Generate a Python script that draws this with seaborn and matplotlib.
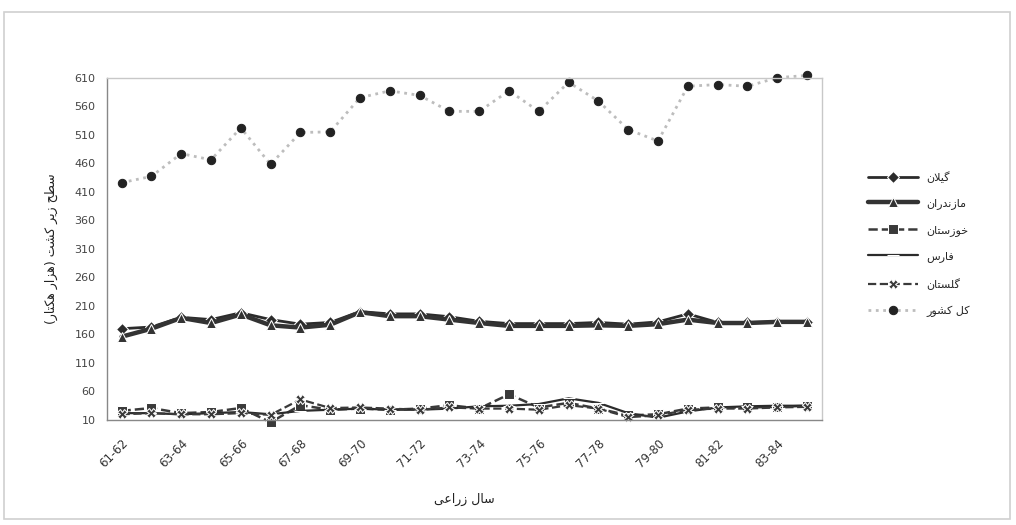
import matplotlib
matplotlib.use("Agg")
import matplotlib.pyplot as plt
import seaborn as sns
import pandas as pd
import numpy as np

years = ["61-62", "62-63", "63-64", "64-65", "65-66", "66-67", "67-68", "68-69",
         "69-70", "70-71", "71-72", "72-73", "73-74", "74-75", "75-76", "76-77",
         "77-78", "78-79", "79-80", "80-81", "81-82", "82-83", "83-84", "84-85"]
tick_years = ["61-62", "63-64", "65-66", "67-68", "69-70", "71-72",
              "73-74", "75-76", "77-78", "79-80", "81-82", "83-84"]
y_ticks = [10, 60, 110, 160, 210, 260, 310, 360, 410, 460, 510, 560, 610]

gilan = [170, 173, 190, 186, 198, 186, 178, 181, 200, 196, 196, 191,
         183, 179, 179, 179, 181, 178, 182, 196, 181, 181, 182, 182]
mazandaran = [156, 170, 189, 180, 195, 176, 172, 177, 199, 192, 192, 186,
              180, 175, 175, 175, 176, 175, 178, 186, 180, 180, 182, 182]
khuzestan = [26, 31, 22, 24, 31, 6, 36, 28, 30, 28, 30, 36,
             30, 55, 32, 40, 30, 18, 20, 30, 32, 32, 33, 35]
fars = [22, 22, 20, 22, 24, 20, 26, 28, 30, 28, 28, 30,
        34, 35, 38, 48, 40, 22, 14, 25, 32, 34, 35, 35]
golestan = [20, 22, 20, 20, 22, 19, 46, 31, 32, 30, 28, 32,
            30, 30, 28, 36, 30, 15, 18, 28, 30, 30, 32, 33]
total = [426, 437, 477, 466, 522, 458, 514, 515, 575, 587, 579, 551,
         551, 587, 551, 602, 569, 519, 499, 595, 598, 595, 610, 614]

# --- minimal Persian shaping (matplotlib has no complex text layout) ---
FORMS = {
    "\u0627": ("\uFE8D", "\uFE8E", None, None),
    "\u062A": ("\uFE95", "\uFE96", "\uFE97", "\uFE98"),
    "\u062D": ("\uFEA1", "\uFEA2", "\uFEA3", "\uFEA4"),
    "\u062E": ("\uFEA5", "\uFEA6", "\uFEA7", "\uFEA8"),
    "\u062F": ("\uFEA9", "\uFEAA", None, None),
    "\u0631": ("\uFEAD", "\uFEAE", None, None),
    "\u0632": ("\uFEAF", "\uFEB0", None, None),
    "\u0633": ("\uFEB1", "\uFEB2", "\uFEB3", "\uFEB4"),
    "\u0634": ("\uFEB5", "\uFEB6", "\uFEB7", "\uFEB8"),
    "\u0637": ("\uFEC1", "\uFEC2", "\uFEC3", "\uFEC4"),
    "\u0639": ("\uFEC9", "\uFECA", "\uFECB", "\uFECC"),
    "\u0641": ("\uFED1", "\uFED2", "\uFED3", "\uFED4"),
    "\u0644": ("\uFEDD", "\uFEDE", "\uFEDF", "\uFEE0"),
    "\u0645": ("\uFEE1", "\uFEE2", "\uFEE3", "\uFEE4"),
    "\u0646": ("\uFEE5", "\uFEE6", "\uFEE7", "\uFEE8"),
    "\u0647": ("\uFEE9", "\uFEEA", "\uFEEB", "\uFEEC"),
    "\u0648": ("\uFEED", "\uFEEE", None, None),
    "\u06A9": ("\uFB8E", "\uFB8F", "\uFB90", "\uFB91"),
    "\u06AF": ("\uFB92", "\uFB93", "\uFB94", "\uFB95"),
    "\u06CC": ("\uFBFC", "\uFBFD", "\uFBFE", "\uFBFF"),
}


def shape(text):
    chars = list(text)
    out = []
    i = 0
    n = len(chars)
    while i < n:
        c = chars[i]
        if c not in FORMS:
            out.append(c)
            i += 1
            continue
        prev = chars[i - 1] if i > 0 else None
        joins_prev = prev in FORMS and FORMS[prev][2] is not None
        # lam-alef ligature
        if c == "\u0644" and i + 1 < n and chars[i + 1] == "\u0627":
            out.append("\uFEFC" if joins_prev else "\uFEFB")
            i += 2
            continue
        nxt = chars[i + 1] if i + 1 < n else None
        can_next = FORMS[c][2] is not None and nxt in FORMS
        f = FORMS[c]
        if joins_prev and can_next:
            g = f[3]
        elif joins_prev:
            g = f[1]
        elif can_next:
            g = f[2]
        else:
            g = f[0]
        out.append(g)
        i += 1
    vis = "".join(reversed(out))
    vis = vis.translate(str.maketrans("()", ")("))
    return vis


names = ["گیلان", "مازندران", "خوزستان", "فارس", "گلستان", "کل کشور"]
series = [gilan, mazandaran, khuzestan, fars, golestan, total]
styles = [
    dict(color="#2b2b2b", linestyle="-", linewidth=2.0, marker="D", markersize=6),
    dict(color="#333333", linestyle="-", linewidth=3.2, marker="^", markersize=7),
    dict(color="#3a3a3a", linestyle="--", linewidth=1.8, marker="s", markersize=7),
    dict(color="#2b2b2b", linestyle="-", linewidth=1.6, marker="_", markersize=8),
    dict(color="#3a3a3a", linestyle="--", linewidth=1.6, marker="X", markersize=7),
    dict(color="#bdbdbd", linestyle=":", linewidth=2.0, marker="o", markersize=6,
         markerfacecolor="#222222", markeredgecolor="#222222"),
]

sns.set_theme(style="white")
plt.rcParams["font.family"] = ["DejaVu Sans"]

fig = plt.figure(figsize=(10.16, 5.25), dpi=100)
ax = fig.add_axes([0.105, 0.2, 0.704, 0.652])

x = np.arange(len(years))
for name, vals, st in zip(names, series, styles):
    df = pd.DataFrame({"x": x, "y": vals})
    sns.lineplot(data=df, x="x", y="y", ax=ax, label=shape(name),
                 clip_on=False, **st)

ax.set_xlim(-0.5, len(years) - 0.5)
ax.set_ylim(10, 610)
ax.set_yticks(y_ticks)
ax.set_yticklabels([str(v) for v in y_ticks], fontsize=8, color="#444444")
tick_pos = [years.index(t) for t in tick_years]
ax.set_xticks(tick_pos)
ax.set_xticklabels(tick_years, rotation=45, ha="right", rotation_mode="anchor",
                   fontsize=8.5, color="#333333")
ax.tick_params(axis="x", length=0, pad=12)
ax.tick_params(axis="y", length=0, pad=8)
ax.set_xlabel(shape("سال زراعی"), fontsize=9, color="#222222", labelpad=16)
ax.set_ylabel(shape("سطح زیر کشت (هزار هکتار)"), fontsize=9, color="#222222",
              labelpad=12)

for side in ["left", "bottom", "top", "right"]:
    ax.spines[side].set_color("#888888")
    ax.spines[side].set_linewidth(1.0)
ax.spines["top"].set_color("#c8c8c8")
ax.spines["right"].set_color("#c8c8c8")

leg = ax.legend(loc="center left", bbox_to_anchor=(1.05, 0.515), frameon=False,
                fontsize=8, handlelength=4.5, labelspacing=1.4,
                handletextpad=0.8)

fig.patches.append(plt.Rectangle((0.004, 0.012), 0.99, 0.965,
                                 transform=fig.transFigure, fill=False,
                                 edgecolor="#d0d0d0", linewidth=1.2))

fig.savefig("out.png", dpi=100, facecolor="white")
